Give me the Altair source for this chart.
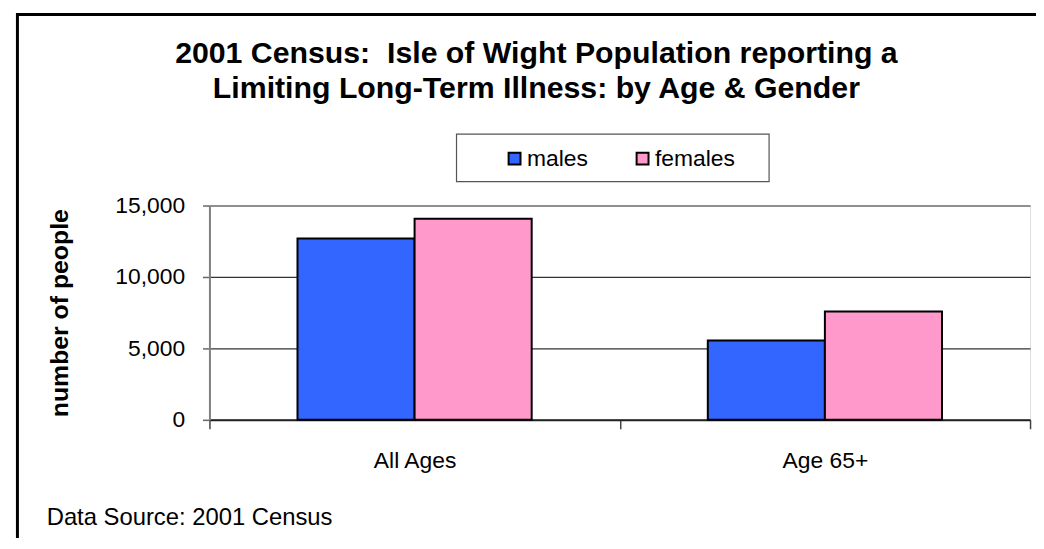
import altair as alt
import pandas as pd

# ---- data ----
categories = ["All Ages", "Age 65+"]
genders = ["males", "females"]
males = [12690, 5560]
females = [14080, 7590]
colors = ["#3366FF", "#FF99CC"]
title_lines = ["2001 Census:\u00a0 Isle of Wight Population reporting a",
               "Limiting Long-Term Illness: by Age & Gender"]
y_title = "number of people"
source_text = "Data Source: 2001 Census"

rows = []
for i, c in enumerate(categories):
    rows.append({"category": c, "gender": "males", "value": males[i]})
    rows.append({"category": c, "gender": "females", "value": females[i]})
df = pd.DataFrame(rows)

FONT = "Liberation Sans"
W, H = 827, 216

bars = alt.Chart(df).mark_bar(stroke="black", strokeWidth=2).encode(
    x=alt.X("category:N", sort=categories,
            scale=alt.Scale(paddingInner=0, paddingOuter=0),
            axis=alt.Axis(title=None, labelAngle=0, labelFontSize=23, labelFont=FONT,
                          labelColor="black", domainColor="#222222", domainWidth=2,
                          tickColor="#444444", tickSize=9, tickWidth=1.5,
                          tickBand="extent", labelPadding=39,
                          labelBaseline="alphabetic", grid=False)),
    xOffset=alt.XOffset("gender:N", sort=genders,
                        scale=alt.Scale(paddingInner=0, paddingOuter=0.752)),
    y=alt.Y("value:Q", scale=alt.Scale(domain=[0, 15000]),
            axis=alt.Axis(values=[0, 5000, 10000, 15000], format=",.0f",
                          title=y_title, titleFont=FONT, titleFontSize=25,
                          titleFontWeight="bold", titleColor="black",
                          titleAngle=270, titleX=-143, titleY=108,
                          titleAlign="center", titleBaseline="alphabetic",
                          labelFontSize=23, labelFont=FONT, labelColor="black",
                          labelPadding=18, tickSize=7, tickColor="#666666",
                          tickWidth=1.5, domainColor="#808080", domainWidth=2,
                          grid=True, gridColor="#333333", gridWidth=1.2)),
    color=alt.Color("gender:N", sort=genders,
                    scale=alt.Scale(domain=genders, range=colors),
                    legend=alt.Legend(title=None, orient="none", direction="horizontal",
                                      legendX=296, legendY=-59, labelFontSize=23,
                                      labelFont=FONT, labelColor="black",
                                      symbolType="square", symbolSize=144,
                                      symbolStrokeColor="black", symbolStrokeWidth=2,
                                      labelOffset=1, columnPadding=43, padding=0)),
)

legend_box = alt.Chart(alt.Data(values=[{}])).mark_rect(
    fill=None, stroke="#555555", strokeWidth=1.2
).encode(x=alt.value(249), x2=alt.value(564), y=alt.value(-72), y2=alt.value(-24))

outer_box = alt.Chart(alt.Data(values=[{}])).mark_rect(
    fill=None, stroke="black", strokeWidth=3
).encode(x=alt.value(-193.5), x2=alt.value(860), y=alt.value(-192.5), y2=alt.value(360))

source = alt.Chart(alt.Data(values=[{"t": source_text}])).mark_text(
    align="left", baseline="alphabetic", fontSize=24, font=FONT, color="black"
).encode(x=alt.value(-164), y=alt.value(322), text="t:N")

chart = alt.layer(outer_box, legend_box, bars, source).properties(
    width=W, height=H,
    title=alt.TitleParams(text=title_lines, fontSize=30.5, fontWeight="bold", font=FONT,
                          color="black", anchor="middle", frame="group",
                          dx=-84, dy=92, lineHeight=35, offset=0),
    autosize=alt.AutoSizeParams(type="none"),
    padding={"left": 203, "top": 197, "right": 6, "bottom": 117},
).configure_view(stroke="#808080", strokeWidth=2).configure(background="white")

chart.save("out.html", embed_options={"renderer": "svg", "actions": False})
